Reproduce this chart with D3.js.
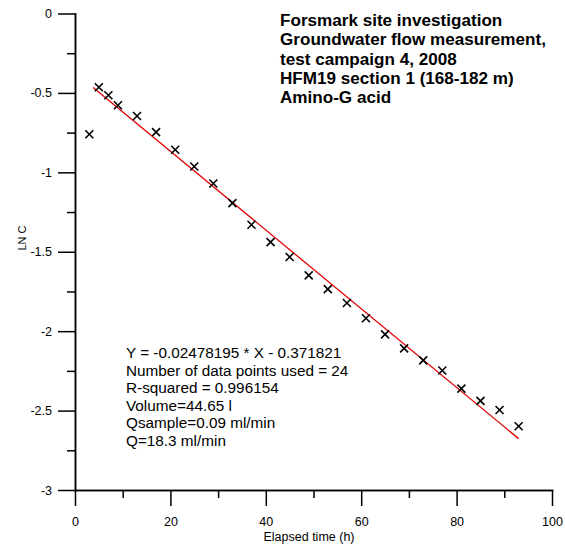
<!DOCTYPE html>
<html>
<head>
<meta charset="utf-8">
<script src="https://cdn.jsdelivr.net/npm/d3@7"></script>
<style>
  body { margin: 0; background: #fff; }
  svg text { font-family: "Liberation Sans", Arial, sans-serif; }
  .axis path, .axis line { stroke: #000; stroke-width: 1.5; }
  .axis text { font-size: 12.5px; fill: #000; }
</style>
</head>
<body>
<svg id="chart" width="565" height="547"></svg>
<script>
// elapsed time (h) and ln C
var times = [3, 5, 7, 9, 13, 17, 21, 25, 29, 33, 37, 41, 45, 49, 53, 57, 61, 65, 69, 73, 77, 81, 85, 89, 93];
var lnc = [-0.760, -0.464, -0.515, -0.578, -0.645, -0.747, -0.858, -0.963, -1.070, -1.194, -1.330, -1.439,
           -1.533, -1.649, -1.735, -1.823, -1.919, -2.020, -2.108, -2.184, -2.248, -2.362, -2.439, -2.496, -2.599];

// regression
var slope = -0.02478195, intercept = -0.371821;
var fitRange = [3.8, 93];

var xMajor = [0, 20, 40, 60, 80, 100];
var xMinor = [10, 30, 50, 70, 90];
var yMajor = [0, -0.5, -1, -1.5, -2, -2.5, -3];
var yMinor = [-0.25, -0.75, -1.25, -1.75, -2.25, -2.75];

var titleLines = ["Forsmark site investigation", "Groundwater flow measurement,",
  "test campaign 4, 2008", "HFM19 section 1 (168-182 m)", "Amino-G acid"];
var infoLines = ["Y = -0.02478195 * X - 0.371821", "Number of data points used = 24",
  "R-squared = 0.996154", "Volume=44.65 l", "Qsample=0.09 ml/min", "Q=18.3 ml/min"];

var svg = d3.select("#chart");

var x = d3.scaleLinear().domain([0, 100]).range([75, 552]);
var y = d3.scaleLinear().domain([-3, 0]).range([490, 13.5]);

// minor ticks first, then major with labels
svg.append("g")
  .attr("class", "axis")
  .attr("transform", "translate(0,490)")
  .call(d3.axisBottom(x).tickValues(xMinor).tickSize(8).tickSizeOuter(0).tickFormat(""));
svg.append("g")
  .attr("class", "axis")
  .attr("transform", "translate(0,490)")
  .call(d3.axisBottom(x).tickValues(xMajor).tickSize(16).tickSizeOuter(0).tickPadding(11)
    .tickFormat(function(d) { return String(d); }));

svg.append("g")
  .attr("class", "axis")
  .attr("transform", "translate(75,0)")
  .call(d3.axisLeft(y).tickValues(yMinor).tickSize(8).tickSizeOuter(0).tickFormat(""));
svg.append("g")
  .attr("class", "axis")
  .attr("transform", "translate(75,0)")
  .call(d3.axisLeft(y).tickValues(yMajor).tickSize(17).tickSizeOuter(0).tickPadding(6)
    .tickFormat(function(d) { return String(d); }));

svg.selectAll(".axis .domain").attr("stroke-linecap", "square");

// axis titles
svg.append("text")
  .attr("x", 309)
  .attr("y", 540.5)
  .attr("text-anchor", "middle")
  .style("font-size", "12.5px")
  .text("Elapsed time (h)");

svg.append("text")
  .attr("transform", "translate(26,238) rotate(-90)")
  .attr("text-anchor", "middle")
  .style("font-size", "11px")
  .text("LN C");

// fitted line
svg.append("line")
  .attr("x1", x(fitRange[0]))
  .attr("y1", y(slope * fitRange[0] + intercept))
  .attr("x2", x(fitRange[1]))
  .attr("y2", y(slope * fitRange[1] + intercept))
  .attr("stroke", "#e00000")
  .attr("stroke-width", 1.3);

// x markers
var pts = times.map(function(t, i) { return {t: t, v: lnc[i]}; });
var s = 4;
svg.append("g").selectAll("path")
  .data(pts)
  .enter()
    .append("path")
    .attr("d", function(d) {
      var cx = x(d.t), cy = y(d.v);
      return "M" + (cx - s) + "," + (cy - s) + "L" + (cx + s) + "," + (cy + s) +
             "M" + (cx - s) + "," + (cy + s) + "L" + (cx + s) + "," + (cy - s);
    })
    .attr("stroke", "#000")
    .attr("stroke-width", 1.6)
    .attr("fill", "none");

// title block
svg.append("g").selectAll("text")
  .data(titleLines)
  .enter()
    .append("text")
    .attr("x", 280)
    .attr("y", function(d, i) { return 26.3 + i * 19.1; })
    .style("font-size", "17.1px")
    .style("font-weight", "bold")
    .text(function(d) { return d; });

// regression info
svg.append("g").selectAll("text")
  .data(infoLines)
  .enter()
    .append("text")
    .attr("x", 126)
    .attr("y", function(d, i) { return 358 + i * 17.6; })
    .style("font-size", "15.3px")
    .text(function(d) { return d; });
</script>
</body>
</html>
